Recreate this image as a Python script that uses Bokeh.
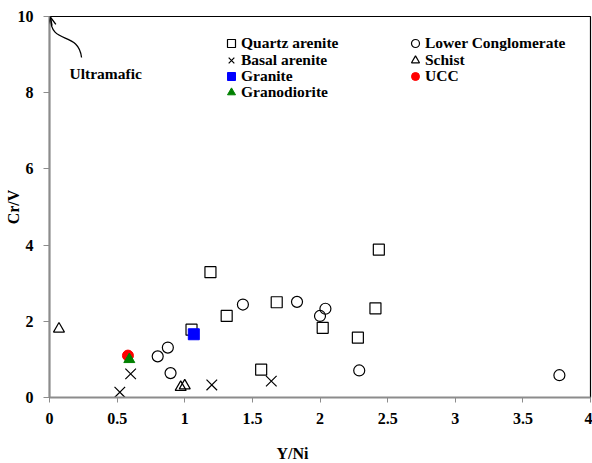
from bokeh.plotting import figure
from bokeh.models import Range1d, Legend, LegendItem, Label, Arrow, OpenHead, Title
from bokeh.embed import file_html
from bokeh.resources import INLINE

# Y/Ni (x) and Cr/V (y) by sample group
quartz_x = [1.05, 1.19, 1.31, 1.565, 1.68, 2.02, 2.28, 2.41, 2.435]
quartz_y = [1.78, 3.29, 2.14, 0.73, 2.50, 1.83, 1.57, 2.34, 3.88]

lower_x = [0.80, 0.875, 0.895, 1.43, 1.83, 2.00, 2.04, 2.29, 3.77]
lower_y = [1.08, 1.31, 0.64, 2.44, 2.51, 2.14, 2.33, 0.71, 0.585]

basal_x = [0.52, 0.60, 1.20, 1.64]
basal_y = [0.14, 0.62, 0.33, 0.43]

schist_x = [0.07, 0.97, 1.00]
schist_y = [1.80, 0.27, 0.31]

granite_x = [1.067]
granite_y = [1.66]

granodiorite_x = [0.59]
granodiorite_y = [1.00]

ucc_x = [0.58]
ucc_y = [1.10]

x_ticks = [0, 0.5, 1, 1.5, 2, 2.5, 3, 3.5, 4]
y_ticks = [0, 2, 4, 6, 8, 10]

FONT = "Liberation Serif"
AXIS_GREY = "#8c8c8c"

p = figure(width=592, height=463, output_backend="svg", toolbar_location=None,
           x_range=Range1d(0, 4), y_range=Range1d(0, 10),
           min_border_left=49, min_border_right=2, min_border_top=16,
           min_border_bottom=66)
p.grid.visible = False
p.outline_line_color = "black"
p.outline_line_width = 1.2
p.background_fill_color = "white"
p.border_fill_color = "white"

for ax in (p.xaxis[0], p.yaxis[0]):
    ax.axis_line_color = AXIS_GREY
    ax.axis_line_width = 2
    ax.major_tick_line_color = AXIS_GREY
    ax.major_tick_line_width = 1
    ax.major_tick_in = 0
    ax.minor_tick_line_color = None
    ax.major_label_text_font = FONT
    ax.major_label_text_font_style = "bold"
    ax.major_label_text_font_size = "16px"
    ax.major_label_text_color = "black"

p.xaxis.ticker = x_ticks
p.xaxis.major_tick_out = 5
p.xaxis.major_label_standoff = 10
p.xaxis.major_label_overrides = {0: "0", 1: "1", 2: "2", 3: "3", 4: "4"}

p.yaxis.ticker = y_ticks
p.yaxis.major_tick_out = 6
p.yaxis.major_label_standoff = 10
p.yaxis.axis_label = "Cr/V"
p.yaxis.axis_label_text_font = FONT
p.yaxis.axis_label_text_font_style = "bold"
p.yaxis.axis_label_text_font_size = "16px"
p.yaxis.axis_label_text_color = "black"
p.yaxis.axis_label_standoff = -7

# x-axis title, set a little left of the frame centre; top padding drops it lower
p.add_layout(Title(text="Y/Ni", align="left", offset=227, standoff=0,
                   padding=dict(left=0, right=0, top=16, bottom=0),
                   text_font=FONT, text_font_style="bold",
                   text_font_size="16px", text_color="black"), "below")

LW = 1.2
r_quartz = p.scatter(quartz_x, quartz_y, marker="square", size=11,
                     fill_color=None, line_color="black", line_width=LW)
r_lower = p.scatter(lower_x, lower_y, marker="circle", size=11,
                    fill_color=None, line_color="black", line_width=LW)
r_basal = p.scatter(basal_x, basal_y, marker="x", size=15,
                    line_color="black", line_width=LW)
r_schist = p.scatter(schist_x, schist_y, marker="triangle", size=11,
                     fill_color=None, line_color="black", line_width=LW)
r_ucc = p.scatter(ucc_x, ucc_y, marker="circle", size=11,
                  fill_color="#ff0000", line_color="#ff0000")
r_granite = p.scatter(granite_x, granite_y, marker="square", size=11,
                      fill_color="#0000ff", line_color="#0000ff")
r_grano = p.scatter(granodiorite_x, granodiorite_y, marker="triangle", size=11,
                    fill_color="#008000", line_color="#008000")

# Ultramafic pointer: curved stem ending in an open arrow head at the top of the axis
p.bezier(x0=[0.237], y0=[8.924], x1=[0.0074], y1=[9.961],
         cx0=[0.214], cy0=[9.633], cx1=[0.0074], cy1=[9.239],
         line_color="black", line_width=1.3)
p.add_layout(Arrow(end=OpenHead(size=8, line_width=1.3, line_color="black"),
                   x_start=0.0185, y_start=9.76, x_end=0.0074, y_end=9.98,
                   line_color="black", line_width=1.3))
p.add_layout(Label(x=0.148, y=8.50, text="Ultramafic", text_font=FONT,
                   text_font_style="bold", text_font_size="15.5px",
                   text_color="black", text_align="left",
                   text_baseline="middle"))


def legend_row(label, renderer, loc, standoff):
    lg = Legend(items=[LegendItem(label=label, renderers=[renderer])],
                location=loc, orientation="vertical",
                glyph_width=20, glyph_height=20, label_height=16,
                spacing=0, label_standoff=standoff, padding=0, margin=0,
                border_line_color=None, background_fill_alpha=0,
                label_text_font=FONT, label_text_font_style="bold",
                label_text_font_size="15.5px", label_text_color="black")
    p.add_layout(lg, "center")


# two legend columns, one entry per row
row_y = [343.7, 327, 311, 295.3]
for lab, rend, ry in zip(["Quartz arenite", "Basal arenite", "Granite", "Granodiorite"],
                         [r_quartz, r_basal, r_granite, r_grano], row_y):
    legend_row(lab, rend, (172, ry), -2)
for lab, rend, ry in zip(["Lower Conglomerate", "Schist", "UCC"],
                         [r_lower, r_schist, r_ucc], row_y):
    legend_row(lab, rend, (356, ry), -3)

open("out.html", "w").write(file_html(p, INLINE))
